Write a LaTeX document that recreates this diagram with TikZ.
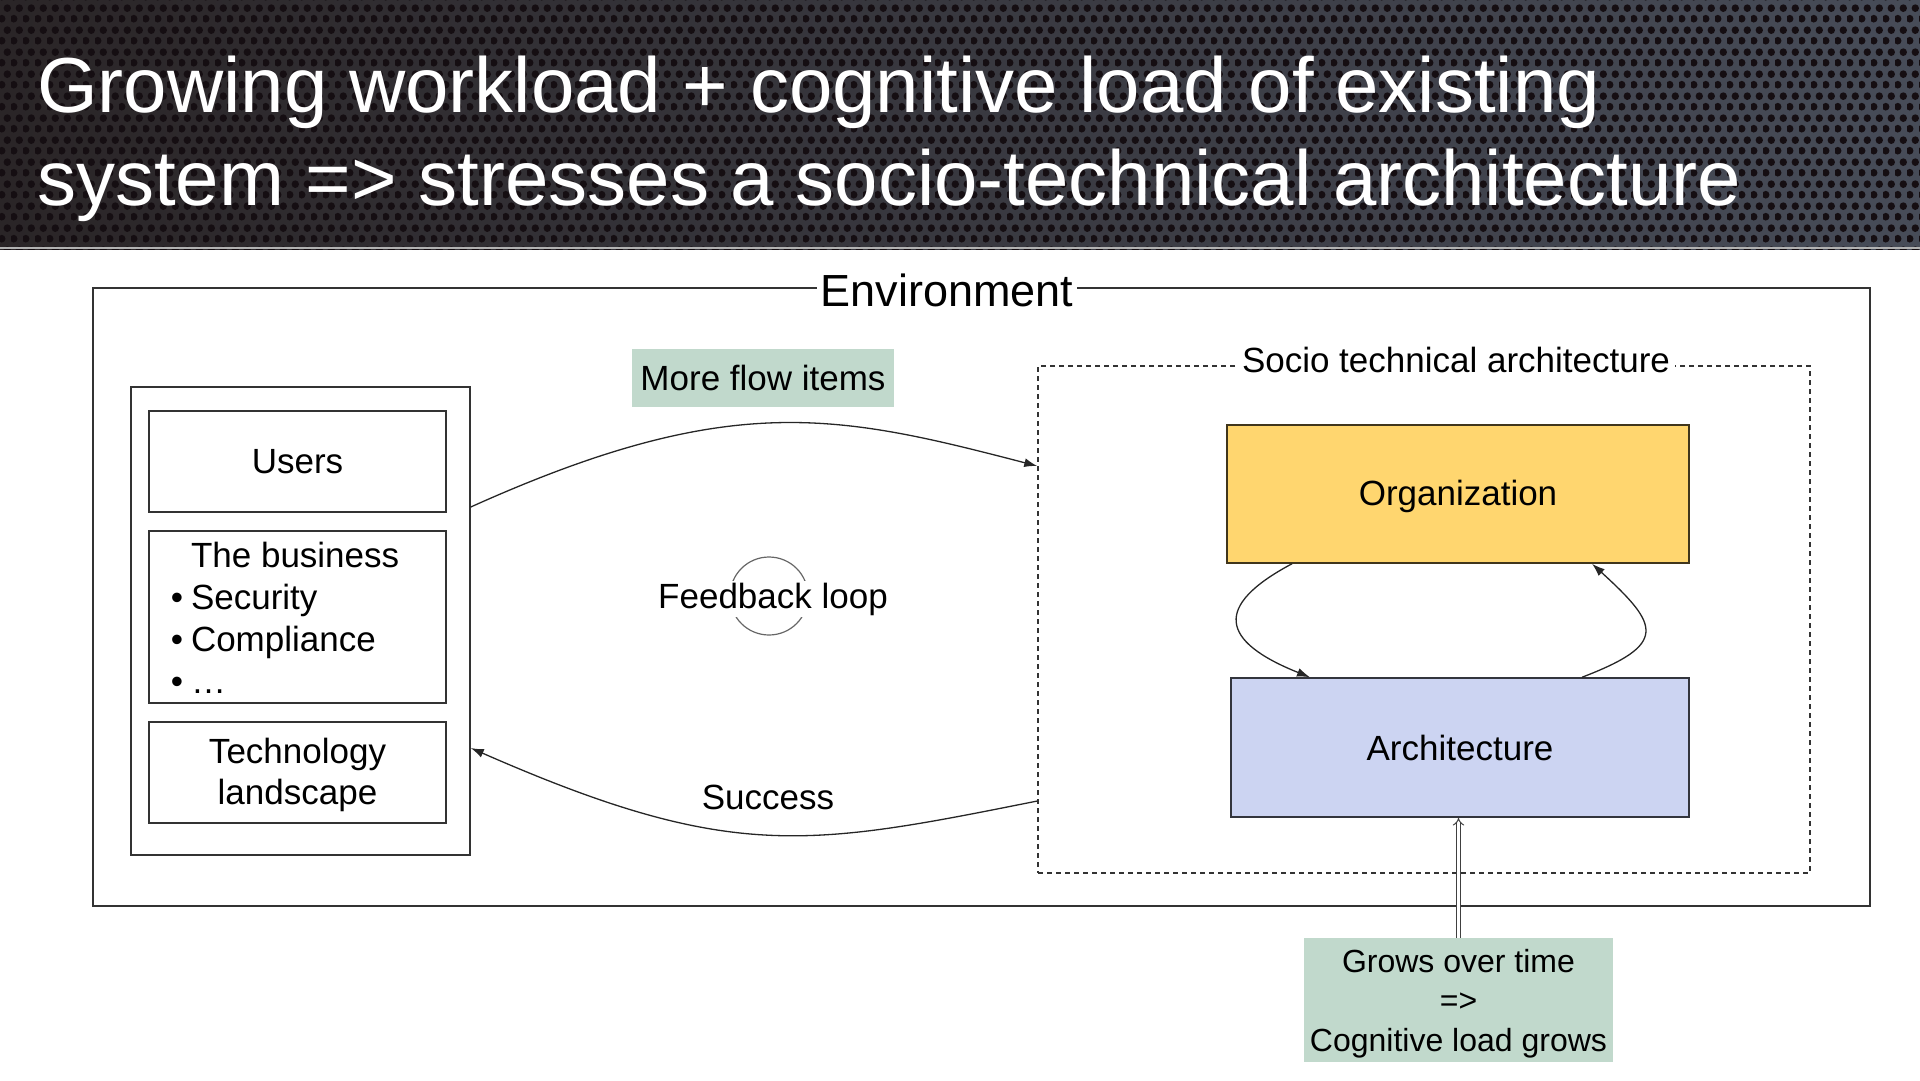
\documentclass[tikz,border=0pt]{standalone}
\usepackage{fontspec}
\setmainfont{Liberation Sans}
\usetikzlibrary{arrows.meta,calc,patterns}
\definecolor{orgfill}{HTML}{FFD66F}
\definecolor{archfill}{HTML}{CCD4F2}
\definecolor{notefill}{HTML}{C1D9CC}
\definecolor{bandleft}{HTML}{2A2527}
\definecolor{bandright}{HTML}{474C58}
\definecolor{holecolor}{HTML}{150E12}
\newcommand{\boxfont}{\fontsize{35}{42}\selectfont}
% staggered holes of the title band
\pgfdeclarepatternformonly{meshholes}{\pgfpointorigin}{\pgfpoint{12pt}{22pt}}{\pgfpoint{12pt}{22pt}}{%
  \pgfpathcircle{\pgfpoint{3pt}{5.5pt}}{4pt}%
  \pgfpathcircle{\pgfpoint{9pt}{16.5pt}}{4pt}%
  \pgfusepath{fill}}

\begin{document}
\begin{tikzpicture}[x=1pt,y=-1pt,
  box/.style 2 args={draw=black!80,line width=1.5pt,minimum width=#1,minimum height=#2,inner sep=0pt},
  note/.style 2 args={fill=notefill,minimum width=#1,minimum height=#2,inner sep=0pt,font=\boxfont},
  title/.style={text=white,font=\fontsize{78}{93}\selectfont,inner sep=0pt},
  flow/.style={draw=black!85,line width=1.3pt,-{Latex[length=13pt,width=9pt]}}]
  \useasboundingbox (0,0) rectangle (1920,1080);
  % title band
  \fill[left color=bandleft,right color=bandright] (0,0) rectangle (1920,249);
  \fill[pattern=meshholes,pattern color=holecolor] (0,0) rectangle (1920,249);
  \draw[black!30,line width=2pt] (0,248) -- (1920,248);
  \node[title,anchor=base west] (title1) at (37,112) {Growing workload + cognitive load of existing};
  \node[title,anchor=base west] (title2) at (37,205) {system => stresses a socio-technical architecture};

  \node[box={1777pt}{618pt}] (env) at (981.5,597) {};
  \node[fill=white,inner sep=4pt,font=\fontsize{45}{54}\selectfont] (envlabel) at (947,290) {Environment};

  % context on the left
  \node[box={339pt}{468pt}] (ctx) at (300.5,621) {};
  \node[box={297pt}{101pt},font=\boxfont] (users) at (297.5,461.5) {Users};
  \node[box={297pt}{172pt}] (business) at (297.5,617) {};
  \node[font=\boxfont,inner sep=0pt] (bizlist) at (285,622)
    {\begin{tabular}{@{}l@{\hspace{8pt}}l@{}} & The business\\ \textbullet & Security\\ \textbullet & Compliance\\ \textbullet & … \end{tabular}};
  \node[box={297pt}{101pt},font=\fontsize{35}{41}\selectfont,align=center] (tech) at (297.5,772.5) {\rule{0pt}{31pt}Technology\\landscape};

  % socio technical architecture
  \node[box={772pt}{507pt},dashed,dash pattern=on 5pt off 4pt] (sta) at (1424,619.5) {};
  \node[fill=white,inner sep=5pt,font=\boxfont] (stalabel) at (1456,360) {Socio technical architecture};
  \node[box={462pt}{138pt},fill=orgfill,draw=black!75!orgfill,font=\boxfont] (org) at (1458,494) {\rule{0pt}{30pt}Organization};
  \node[box={458pt}{139pt},fill=archfill,draw=black!75!archfill,font=\boxfont] (arch) at (1460,747.5) {Architecture};
  \draw[flow] ([xshift=-166pt]org.south) .. controls +(-79,42) and +(-90,-36) .. ([xshift=-150pt]arch.north);
  \draw[flow] ([xshift=122pt]arch.north) .. controls +(86,-33) and +(68,62) .. ([xshift=134pt]org.south);

  % feedback loop
  \node[note={262pt}{58pt}] (more) at (763,378) {More flow items};
  \draw[flow] ([yshift=114pt]ctx.east) .. controls +(260,-117) and +(-200,-52) .. ([yshift=153.5pt]sta.west);
  \draw[flow] ([yshift=-181.5pt]sta.west) .. controls +(-230,46) and +(260,114) .. ([yshift=-127pt]ctx.east);
  \node[font=\boxfont] (success) at (768,797) {Success};
  \node[circle,draw=black!60,line width=1.2pt,minimum size=78pt] (ring) at (769,596) {};
  \node[fill=white,inner sep=2pt,font=\boxfont] (loop) at (773,599) {Feedback loop};

  % growth note
  \node[note={309pt}{124pt},align=center,font=\fontsize{32}{39.5}\selectfont] (grows) at (1458.5,1000) {\rule{0pt}{30pt}Grows over time\\=>\\Cognitive load grows};
  \draw[draw=black!75,line width=1pt,double=white,double distance=3pt,-Implies] (grows.north) -- (grows.north |- arch.south);
\end{tikzpicture}
\end{document}
